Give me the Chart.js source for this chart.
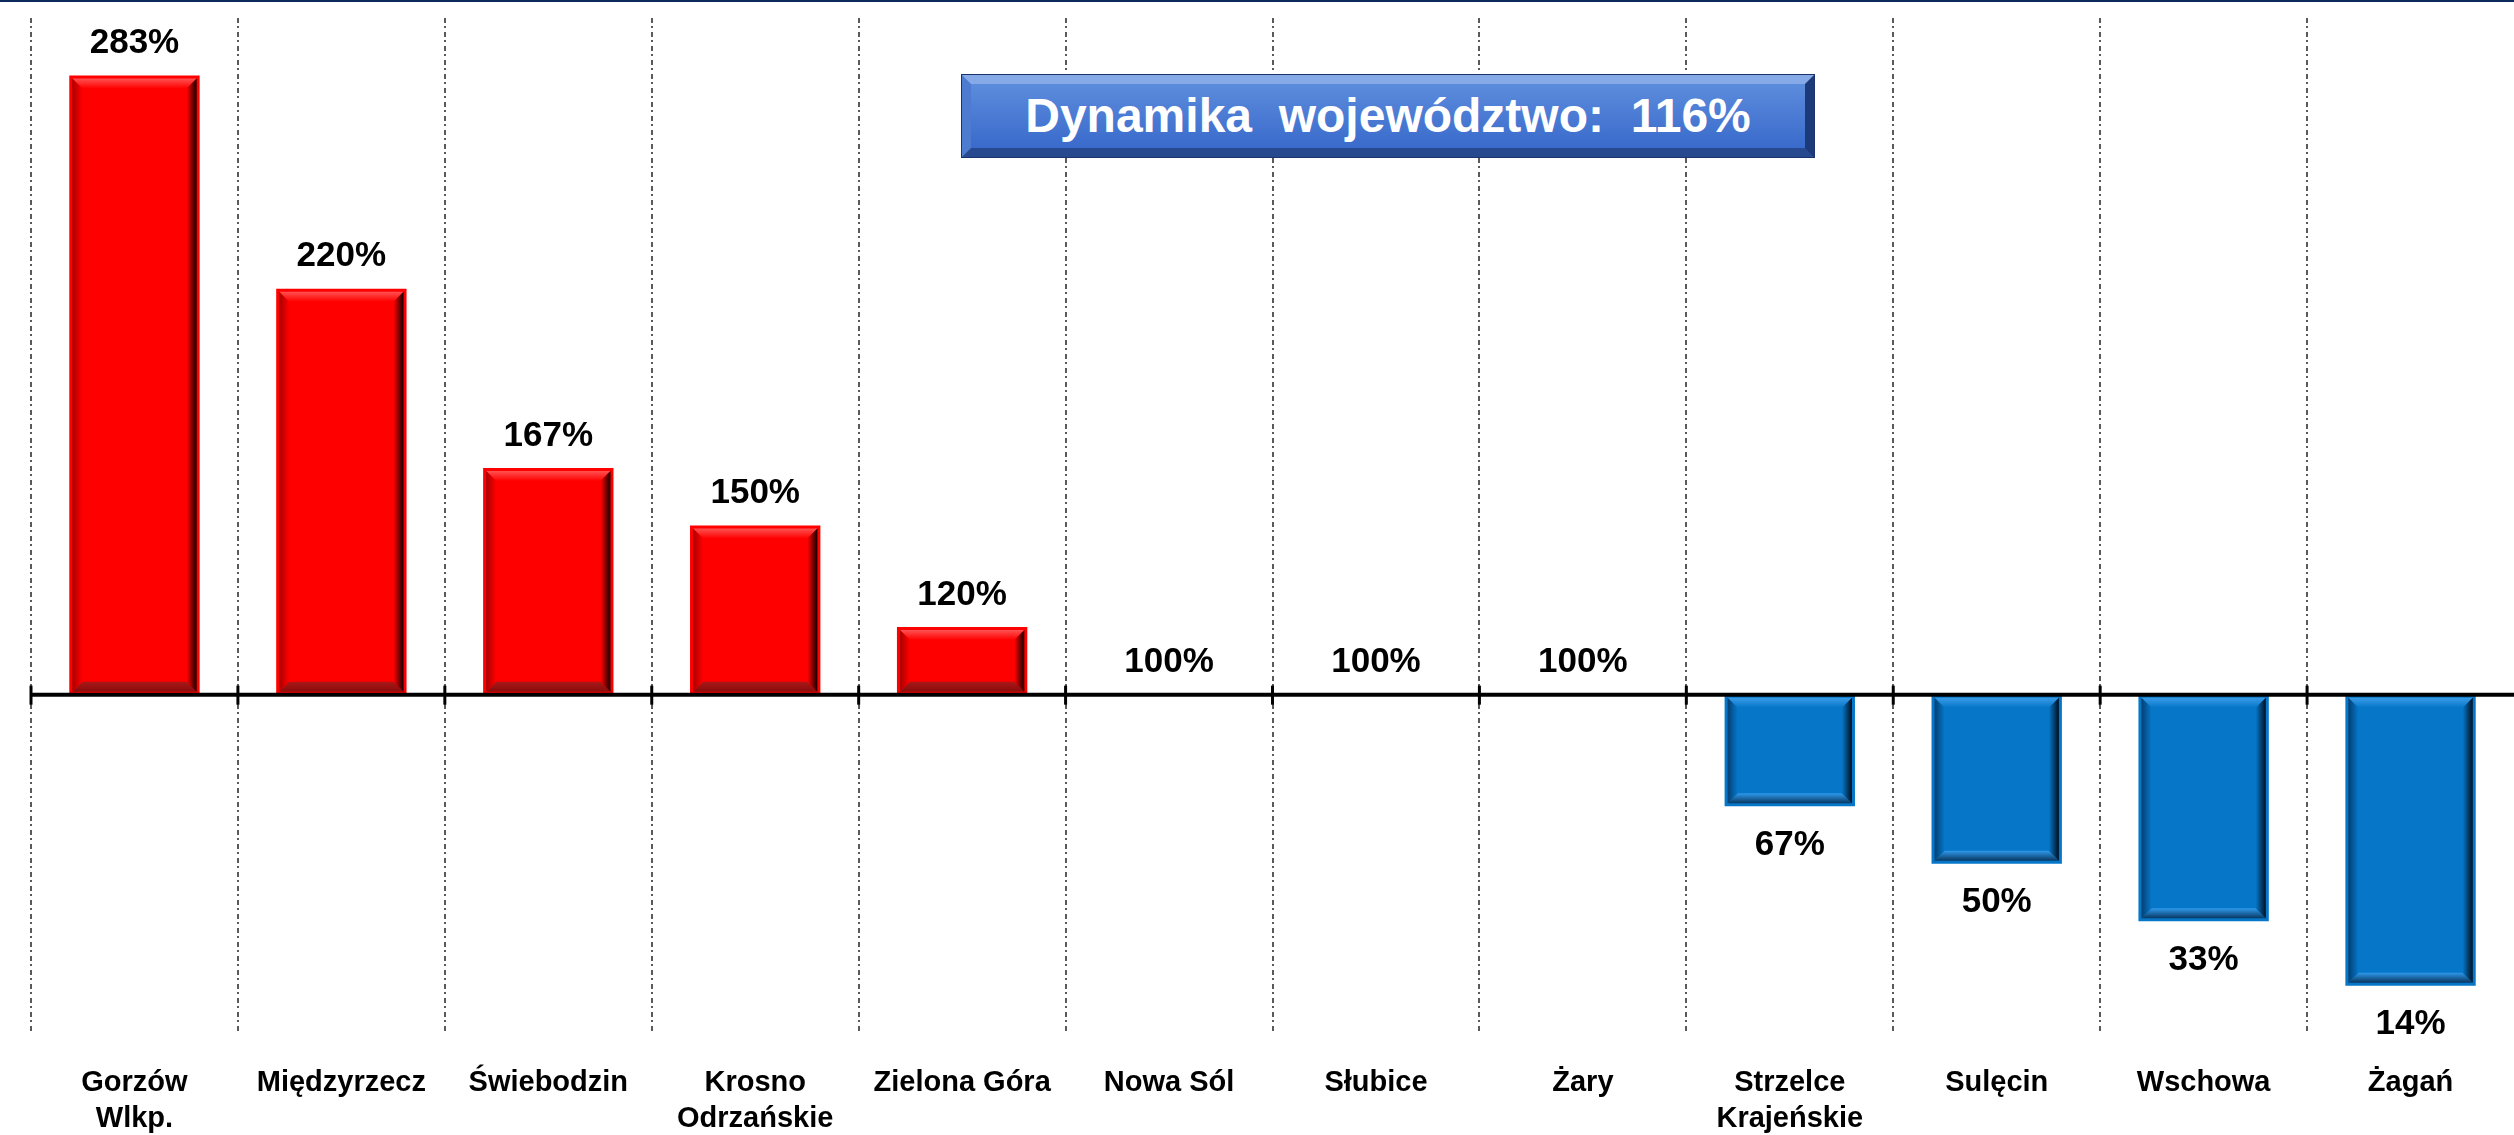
<!DOCTYPE html>
<html lang="pl">
<head>
<meta charset="utf-8">
<script src="https://cdn.jsdelivr.net/npm/chart.js@4/dist/chart.umd.min.js"></script>
<style>
  html, body { margin: 0; padding: 0; background: #fff; }
  #wrap { position: relative; width: 2514px; height: 1135px; }
  #topline { position: absolute; left: 0; top: 0; width: 100%; height: 2px; background: #0d2a5c; }
  #total {
    position: absolute; left: 962px; top: 75px; width: 852px; height: 82px;
    box-sizing: border-box;
    border: 9px solid; border-color: #86a9e8 #1d3a78 #27498f #4d7bd0;
    outline: 1px solid #1b356c;
    background: linear-gradient(#5b8cdc, #3a6acb);
    color: #fff; font: bold 48px "Liberation Sans", Arial, sans-serif;
    line-height: 64px; text-align: center; white-space: pre;
  }
</style>
</head>
<body>
<div id="wrap">
  <canvas id="c" width="2514" height="1135"></canvas>
  <div id="topline"></div>
  <div id="total">Dynamika  województwo:  116%</div>
</div>
<script>
// dane: dynamika w powiatach (%), słupki od poziomu 100%
const categories = [
  ['Gorzów', 'Wlkp.'], 'Międzyrzecz', 'Świebodzin', ['Krosno', 'Odrzańskie'],
  'Zielona Góra', 'Nowa Sól', 'Słubice', 'Żary', ['Strzelce', 'Krajeńskie'],
  'Sulęcin', 'Wschowa', 'Żagań'
];
const values = [283, 220, 167, 150, 120, 100, 100, 100, 67, 50, 33, 14];
const baseLevel = 100;

const RED = { main: '#ff0000', top: '#ff5252', left: '#a80000', right: '#140000', botIn: '#a81818', botOut: '#8a0c0c' };
const BLUE = { main: '#0676c8', top: '#3a9ce8', left: '#033f72', right: '#000f20', botIn: '#2f99ea', botOut: '#083760' };

// ——— efekt fazowania słupków ———
const bevel = {
  id: 'bevel',
  afterDatasetsDraw(chart) {
    const ctx = chart.ctx;
    chart.getDatasetMeta(0).data.forEach((bar, i) => {
      const p = bar.getProps(['x', 'y', 'base', 'width'], true);
      const T0 = Math.min(p.y, p.base), B0 = Math.max(p.y, p.base);
      if (B0 - T0 < 6) return;
      const pal = values[i] >= baseLevel ? RED : BLUE;
      const o = 3;
      const L = p.x - p.width / 2 + o, R = p.x + p.width / 2 - o;
      const T = T0 + o, B = B0 - o;
      const b = Math.min(10, (B - T) / 2);
      const poly = (pts, fill) => {
        ctx.beginPath();
        ctx.moveTo(pts[0][0], pts[0][1]);
        pts.slice(1).forEach(q => ctx.lineTo(q[0], q[1]));
        ctx.closePath();
        ctx.fillStyle = fill;
        ctx.fill();
      };
      ctx.save();
      let g = ctx.createLinearGradient(0, T, 0, T + b);
      g.addColorStop(0, pal.top); g.addColorStop(1, pal.main);
      poly([[L, T], [R, T], [R - b, T + b], [L + b, T + b]], g);
      g = ctx.createLinearGradient(0, B - b, 0, B);
      g.addColorStop(0, pal.botIn); g.addColorStop(1, pal.botOut);
      poly([[L, B], [R, B], [R - b, B - b], [L + b, B - b]], g);
      g = ctx.createLinearGradient(L, 0, L + b, 0);
      g.addColorStop(0, pal.left); g.addColorStop(1, pal.main);
      poly([[L, T], [L + b, T + b], [L + b, B - b], [L, B]], g);
      g = ctx.createLinearGradient(R - b, 0, R, 0);
      g.addColorStop(0, pal.main); g.addColorStop(1, pal.right);
      poly([[R, T], [R - b, T + b], [R - b, B - b], [R, B]], g);
      ctx.restore();
    });
  }
};

// ——— oś na poziomie 100% + etykiety wartości ———
const axisAndLabels = {
  id: 'axisAndLabels',
  afterDatasetsDraw(chart) {
    const ctx = chart.ctx;
    const x = chart.scales.x, y = chart.scales.y;
    const yb = y.getPixelForValue(baseLevel);
    const step = x.getPixelForValue(1) - x.getPixelForValue(0);
    ctx.save();
    ctx.strokeStyle = '#000';
    ctx.lineWidth = 4;
    ctx.beginPath();
    ctx.moveTo(chart.chartArea.left, yb);
    ctx.lineTo(chart.chartArea.right, yb);
    ctx.stroke();
    ctx.lineWidth = 3;
    for (let i = 0; i < categories.length; i++) {
      const xt = x.getPixelForValue(i) - step / 2;
      ctx.beginPath();
      ctx.moveTo(xt, yb - 9);
      ctx.lineTo(xt, yb + 10);
      ctx.stroke();
    }
    ctx.fillStyle = '#000';
    ctx.font = 'bold 35px "Liberation Sans", Arial, sans-serif';
    ctx.textAlign = 'center';
    ctx.textBaseline = 'middle';
    chart.getDatasetMeta(0).data.forEach((bar, i) => {
      const v = values[i];
      const ty = v >= baseLevel ? bar.y - 32 : bar.y + 39;
      ctx.fillText(v + '%', bar.x, ty);
    });
    ctx.restore();
  }
};

new Chart(document.getElementById('c'), {
  type: 'bar',
  data: {
    labels: categories,
    datasets: [{
      data: values,
      base: baseLevel,
      backgroundColor: values.map(v => v >= baseLevel ? RED.main : BLUE.main),
      borderWidth: 0,
      categoryPercentage: 1,
      barPercentage: 0.63
    }]
  },
  options: {
    responsive: false,
    animation: false,
    layout: { padding: { top: 18, left: 31, right: 0, bottom: 0 } },
    plugins: { legend: { display: false }, tooltip: { enabled: false } },
    scales: {
      x: {
        grid: {
          offset: true, lineWidth: 2, drawTicks: false,
          color: c => c.type === 'tick' ? '#5a5a5a' : 'rgba(0,0,0,0)'
        },
        border: { display: false, dash: [5, 3, 2, 4] },
        ticks: {
          color: '#000', autoSkip: false, maxRotation: 0, padding: 32,
          font: { family: '"Liberation Sans", Arial, sans-serif', size: 29, weight: 'bold', lineHeight: 1.25 }
        },
        afterFit: s => { s.height = 102; }
      },
      y: { display: false, min: 0, max: 300 }
    }
  },
  plugins: [bevel, axisAndLabels]
});
</script>
</body>
</html>
